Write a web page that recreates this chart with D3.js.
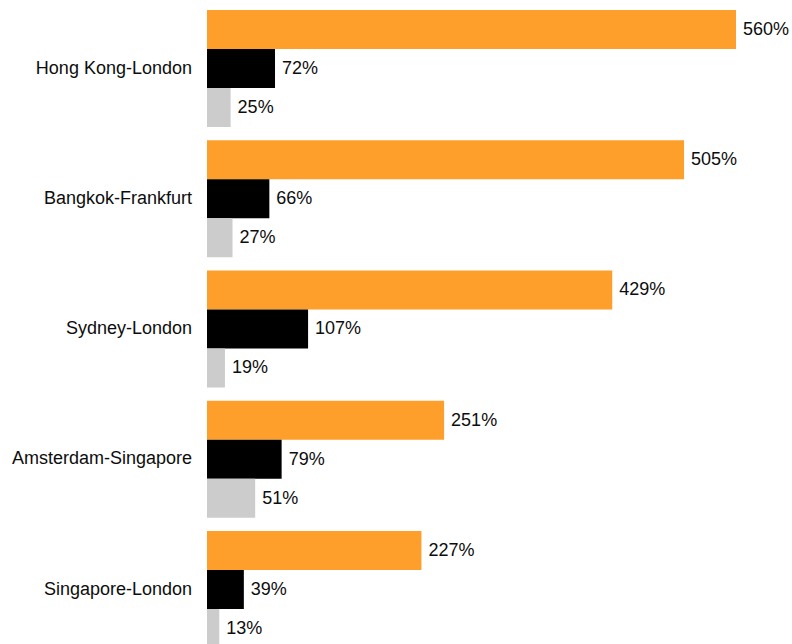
<!DOCTYPE html>
<html>
<head>
<meta charset="utf-8">
<script src="https://cdn.jsdelivr.net/npm/d3@7"></script>
<style>
  body { margin: 0; background: #fff; }
  text { font-family: "Liberation Sans", Arial, sans-serif; fill: #0d0d0d; }
</style>
</head>
<body>
<div id="chart"></div>
<script>
const routes = ["Hong Kong-London", "Bangkok-Frankfurt", "Sydney-London", "Amsterdam-Singapore", "Singapore-London"];
const series = ["a", "b", "c"];
const valuesA = [560, 505, 429, 251, 227];
const valuesB = [72, 66, 107, 79, 39];
const valuesC = [25, 27, 19, 51, 13];
const colors = ["#fe9f2b", "#000000", "#cccccc"];

const width = 792;
const height = 644;

const data = routes.map((r, i) => ({
  route: r,
  bars: [
    { key: "a", value: valuesA[i] },
    { key: "b", value: valuesB[i] },
    { key: "c", value: valuesC[i] }
  ]
}));

const svg = d3.select("#chart")
  .append("svg")
  .attr("width", width)
  .attr("height", height);

const y0 = d3.scaleBand()
  .domain(routes)
  .range([10, 648])
  .paddingInner(13.25 / 130.25)
  .paddingOuter(0);

const y1 = d3.scaleBand()
  .domain(series)
  .range([0, y0.bandwidth()]);

const x = d3.scaleLinear()
  .domain([0, 560])
  .range([207, 736]);

const color = d3.scaleOrdinal().domain(series).range(colors);

const groups = svg.selectAll("g.group")
  .data(data)
  .enter()
  .append("g")
  .attr("class", "group")
  .attr("transform", d => `translate(0,${y0(d.route)})`);

groups.selectAll("rect")
  .data(d => d.bars)
  .enter()
  .append("rect")
  .attr("x", x(0))
  .attr("y", d => y1(d.key))
  .attr("width", d => x(d.value) - x(0))
  .attr("height", y1.bandwidth())
  .attr("fill", d => color(d.key));

groups.selectAll("text.val")
  .data(d => d.bars)
  .enter()
  .append("text")
  .attr("class", "val")
  .attr("x", d => x(d.value) + 7)
  .attr("y", d => y1(d.key) + y1.bandwidth() / 2)
  .attr("dy", "0.3em")
  .style("font-size", "18px")
  .text(d => d.value + "%");

groups.append("text")
  .attr("x", x(0) - 15)
  .attr("y", y0.bandwidth() / 2)
  .attr("dy", "0.28em")
  .attr("text-anchor", "end")
  .style("font-size", "18px")
  .text(d => d.route);
</script>
</body>
</html>
